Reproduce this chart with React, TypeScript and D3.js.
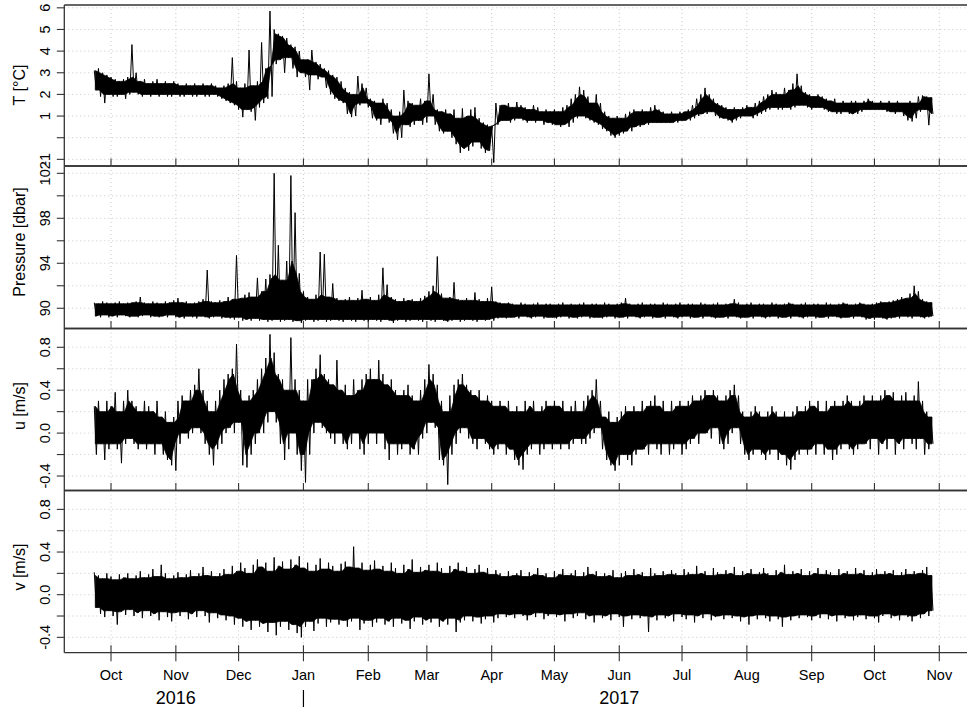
import React from "react";
import * as d3 from "d3";

// Mooring record: 2-day min/max envelopes, first bin starts Sep 23 2016
const START = Date.UTC(2016, 8, 23);
const STEP_DAYS = 2;
const DAY = 86400000;

// Temperature [°C]
const tempHi = [
  3.1, 3.2, 3.0, 2.9, 2.8, 2.7, 2.6, 2.7, 2.8, 4.3,
  3.0, 2.6, 2.7, 2.5, 2.6, 2.7, 2.5, 2.6, 2.5, 2.6,
  2.5, 2.4, 2.5, 2.4, 2.5, 2.4, 2.5, 2.4, 2.5, 2.4,
  2.3, 2.4, 2.5, 3.7, 2.6, 2.3, 2.5, 4.05, 2.4, 2.6,
  4.4, 3.2, 5.85, 5.0, 4.8, 4.7, 4.6, 4.3, 4.2, 4.0,
  3.6, 3.6, 4.05, 3.5, 3.4, 3.2, 3.1, 2.9, 2.8, 2.6,
  2.3, 2.1, 2.0, 2.85, 2.5, 2.3, 1.8, 1.7, 1.6, 1.8,
  1.6, 1.3, 1.0, 1.2, 2.2, 1.7, 1.6, 1.5, 1.8, 1.7,
  2.95, 2.0, 1.3, 1.2, 1.3, 1.1, 1.3, 0.9, 1.35, 1.0,
  1.3, 1.4, 0.9, 0.7, 0.6, 0.5, 1.6, 1.5, 1.5, 1.6,
  1.4, 1.65, 1.5, 1.4, 1.3, 1.5, 1.4, 1.2, 1.3, 1.2,
  1.3, 1.2, 1.4, 1.5, 1.8, 2.0, 2.35, 2.2, 1.9, 1.6,
  2.0, 1.6, 1.2, 1.0, 0.9, 1.0, 0.9, 1.1, 1.2, 1.3,
  1.2, 1.3, 1.2, 1.4, 1.5, 1.3, 1.2, 1.1, 1.2, 1.1,
  1.2, 1.2, 1.3, 1.5, 1.8, 2.0, 2.3, 2.0, 1.8, 1.6,
  1.5, 1.4, 1.3, 1.4, 1.3, 1.4, 1.5, 1.4, 1.6, 1.7,
  1.9, 2.0, 2.2, 2.1, 2.0, 2.3, 2.2, 2.5, 2.95, 2.4,
  2.1, 2.0, 1.9, 2.0, 1.9, 1.8, 1.7, 1.8, 1.6, 1.7,
  1.6, 1.7, 1.7, 1.6, 1.7, 1.8, 1.7, 1.6, 1.7, 1.6,
  1.7, 1.6, 1.7, 1.6, 1.6, 1.7, 1.6, 1.9, 1.95, 1.9,
  1.85,
];
const tempLo = [
  2.2, 1.9, 1.6, 2.0, 1.9, 1.9, 2.0, 1.8, 2.0, 2.1,
  2.0, 1.9, 2.0, 1.9, 2.0, 1.9, 2.0, 1.9, 1.9, 2.0,
  1.9, 1.9, 2.0, 1.9, 1.9, 2.0, 1.9, 1.9, 2.0, 1.9,
  1.8, 1.7, 1.6, 1.5, 1.3, 0.95, 1.3, 1.2, 0.8, 1.4,
  1.6, 1.8, 1.9, 3.4, 3.6, 3.0, 3.7, 3.2, 2.8, 3.0,
  2.8, 2.2, 2.9, 2.7, 2.8, 2.3, 2.0, 1.8, 1.7, 1.6,
  1.1, 0.95, 1.0, 1.5, 1.6, 1.4, 0.9, 0.8, 0.6, 0.9,
  0.7, 0.2, -0.1, 0.0, 0.6, 0.5, 0.6, 0.8, 0.6, 0.7,
  1.0, 0.6, 0.3, 0.2, 0.3, 0.0, -0.3, -0.7, -0.5, -0.6,
  -0.4, -0.2, -0.5, -0.7, -0.6, -1.15, 0.6, 0.8, 0.8, 0.7,
  0.8, 0.9, 0.8, 0.7, 0.8, 0.7, 0.8, 0.6, 0.7, 0.6,
  0.6, 0.5, 0.6, 0.5, 0.7, 0.9, 1.0, 0.9, 0.8, 0.7,
  0.6, 0.4, 0.3, 0.1, 0.0, 0.1, 0.2, 0.3, 0.3, 0.5,
  0.5, 0.6, 0.6, 0.7, 0.7, 0.7, 0.7, 0.7, 0.7, 0.7,
  0.8, 0.8, 0.8, 0.9, 1.0, 1.1, 1.1, 1.2, 1.0, 0.9,
  0.9, 0.8, 0.7, 0.8, 0.9, 1.0, 1.0, 0.9, 1.0, 1.1,
  1.2, 1.3, 1.4, 1.3, 1.3, 1.4, 1.3, 1.4, 1.5, 1.5,
  1.4, 1.3, 1.4, 1.4, 1.3, 1.2, 1.2, 1.1, 1.1, 1.2,
  1.1, 1.1, 1.1, 1.2, 1.3, 1.3, 1.3, 1.3, 1.3, 1.2,
  1.2, 1.1, 1.2, 1.0, 0.8, 0.75, 0.9, 1.2, 1.3, 0.58,
  1.1,
];

// Pressure [dbar]
const presHi = [
  90.5, 90.4, 90.6, 90.5, 90.4, 90.5, 90.6, 90.4, 90.5, 90.5,
  90.6, 91.0, 90.5, 90.4, 90.6, 90.5, 90.4, 90.6, 90.5, 90.7,
  90.9, 90.5, 90.6, 90.4, 90.5, 90.6, 90.8, 93.4, 90.6, 90.5,
  90.7, 90.6, 91.0, 90.8, 94.7, 90.9, 91.2, 91.4, 91.0, 92.7,
  91.5, 92.6, 93.0, 102.0, 95.6, 92.5, 94.2, 101.8, 98.5, 93.1,
  91.5, 91.0, 90.8, 91.2, 95.0, 94.8, 91.0, 92.2, 90.9, 90.7,
  90.8, 91.0, 90.7, 90.9, 91.6, 90.8, 91.0, 90.7, 91.2, 93.6,
  92.1, 91.0, 90.8, 90.6, 90.9, 90.7, 90.8, 90.6, 90.9, 91.1,
  91.5, 92.0, 94.6, 91.3, 90.9, 91.0, 92.3, 90.8, 90.7, 90.9,
  90.7, 91.4, 90.8, 90.6, 90.9, 91.9, 90.6, 90.5, 90.4, 90.5,
  90.4, 90.3, 90.5, 90.4, 90.3, 90.4, 90.5, 90.3, 90.4, 90.4,
  90.3, 90.4, 90.5, 90.3, 90.4, 90.3, 90.4, 90.5, 90.3, 90.4,
  90.4, 90.3, 90.5, 90.4, 90.3, 90.4, 90.5, 90.9, 90.4, 90.3,
  90.4, 90.5, 90.3, 90.4, 90.4, 90.3, 90.5, 90.4, 90.3, 90.4,
  90.5, 90.3, 90.4, 90.4, 90.3, 90.5, 90.4, 90.3, 90.4, 90.5,
  90.3, 90.4, 90.4, 90.8, 90.5, 90.3, 90.4, 90.5, 90.3, 90.4,
  90.4, 90.3, 90.5, 90.4, 90.3, 90.4, 90.5, 90.4, 90.3, 90.4,
  90.5, 90.3, 90.4, 90.4, 90.3, 90.5, 90.4, 90.3, 90.4, 90.5,
  90.4, 90.3, 90.4, 90.5, 90.4, 90.3, 90.4, 90.5, 90.6, 90.5,
  90.6, 90.7, 90.8, 91.0, 90.9, 91.3, 92.0, 91.5, 90.8, 90.6,
  90.5,
];
const presLo = [
  89.3, 89.2, 89.4, 89.2, 89.3, 89.2, 89.4, 89.3, 89.2, 89.3,
  89.2, 89.3, 89.4, 89.2, 89.3, 89.2, 89.3, 89.2, 89.4, 89.2,
  89.2, 89.1, 89.3, 89.2, 89.1, 89.3, 89.2, 89.1, 89.2, 89.3,
  89.1, 89.2, 89.1, 89.0, 89.2, 88.9, 89.0, 88.9, 89.1, 88.9,
  89.0, 88.8, 88.9, 89.0, 88.8, 88.9, 89.0, 88.8, 88.9, 88.7,
  88.9, 89.0, 88.8, 88.9, 89.0, 88.8, 88.9, 89.0, 88.9, 88.8,
  89.0, 88.9, 88.8, 89.0, 88.9, 88.8, 89.0, 88.9, 88.8, 89.0,
  88.9, 88.7, 88.9, 89.0, 88.8, 88.9, 89.0, 88.9, 88.8, 89.0,
  88.9, 88.8, 89.0, 88.9, 88.8, 88.9, 89.0, 88.8, 88.9, 89.0,
  88.9, 88.8, 89.0, 88.9, 89.0, 88.9, 89.1, 89.2, 89.1, 89.2,
  89.2, 89.1, 89.3, 89.2, 89.1, 89.2, 89.3, 89.1, 89.2, 89.2,
  89.1, 89.2, 89.3, 89.1, 89.2, 89.1, 89.2, 89.3, 89.1, 89.2,
  89.2, 89.1, 89.2, 89.3, 89.1, 89.2, 89.2, 89.1, 89.3, 89.2,
  89.1, 89.2, 89.3, 89.1, 89.2, 89.2, 89.1, 89.3, 89.2, 89.1,
  89.2, 89.3, 89.1, 89.2, 89.2, 89.1, 89.3, 89.2, 89.1, 89.2,
  89.2, 89.1, 89.3, 89.2, 89.1, 89.2, 89.2, 89.1, 89.3, 89.2,
  89.1, 89.2, 89.3, 89.1, 89.2, 89.2, 89.1, 89.3, 89.2, 89.1,
  89.2, 89.3, 89.1, 89.2, 89.2, 89.1, 89.3, 89.2, 89.1, 89.2,
  89.2, 89.1, 89.3, 89.2, 89.0, 89.1, 89.0, 89.2, 89.1, 89.0,
  89.1, 89.2, 89.1, 89.3, 89.2, 89.1, 89.3, 89.2, 89.1, 89.2,
  89.3,
];

// Eastward velocity u [m/s]
const uHi = [
  0.25, 0.3, 0.2, 0.3, 0.25, 0.38, 0.2, 0.3, 0.4, 0.3,
  0.25, 0.2, 0.3, 0.25, 0.2, 0.3, 0.15, 0.2, 0.1, 0.15,
  0.3, 0.35, 0.3, 0.4, 0.45, 0.6, 0.4, 0.3, 0.2, 0.3,
  0.4, 0.5, 0.55, 0.6, 0.83, 0.4, 0.3, 0.35, 0.4, 0.5,
  0.6, 0.7, 0.92, 0.75, 0.55, 0.5, 0.4, 0.89, 0.5, 0.4,
  0.3, 0.5, 0.5, 0.6, 0.73, 0.55, 0.5, 0.45, 0.68, 0.4,
  0.45, 0.35, 0.5, 0.4, 0.5, 0.55, 0.6, 0.5, 0.68, 0.55,
  0.45, 0.5, 0.4, 0.35, 0.4, 0.45, 0.35, 0.3, 0.4, 0.5,
  0.64, 0.55, 0.45, 0.3, 0.2, 0.35, 0.45, 0.5, 0.55, 0.45,
  0.4, 0.35, 0.4, 0.3, 0.35, 0.3, 0.25, 0.3, 0.25, 0.3,
  0.2, 0.25, 0.2, 0.3, 0.25, 0.3, 0.2, 0.25, 0.3, 0.25,
  0.3, 0.25, 0.3, 0.2, 0.25, 0.3, 0.2, 0.3, 0.35, 0.4,
  0.5, 0.3, 0.15, 0.2, 0.1, 0.15, 0.2, 0.25, 0.2, 0.25,
  0.2, 0.3, 0.25, 0.3, 0.35, 0.25, 0.3, 0.2, 0.3, 0.25,
  0.3, 0.25, 0.3, 0.35, 0.3, 0.35, 0.4, 0.35, 0.4, 0.35,
  0.3, 0.35, 0.4, 0.45, 0.35, 0.2, 0.15, 0.2, 0.25, 0.2,
  0.15, 0.2, 0.25, 0.2, 0.15, 0.2, 0.15, 0.2, 0.25, 0.2,
  0.25, 0.3, 0.25, 0.3, 0.2, 0.3, 0.25, 0.3, 0.25, 0.3,
  0.35, 0.3, 0.25, 0.3, 0.35, 0.3, 0.35, 0.3, 0.35, 0.4,
  0.35, 0.38, 0.3, 0.35, 0.38, 0.3, 0.35, 0.48, 0.3, 0.2,
  0.15,
];
const uLo = [
  -0.2, -0.1, -0.25, -0.15, -0.1, -0.15, -0.28, -0.1, -0.05, -0.1,
  -0.15, -0.1, -0.15, -0.1, -0.2, -0.1, -0.2, -0.25, -0.3, -0.35,
  -0.1, 0.0, -0.05, 0.0, 0.05, 0.0, -0.1, -0.2, -0.3, -0.15,
  -0.1, 0.0, 0.05, 0.0, 0.1, -0.3, -0.32, -0.2, -0.1, 0.0,
  0.0, 0.1, 0.2, 0.1, -0.1, -0.25, -0.15, 0.0, -0.2, -0.35,
  -0.46, -0.2, 0.0, 0.1, 0.05, 0.0, -0.05, -0.1, 0.0, -0.1,
  -0.15, -0.1, 0.0, -0.15, -0.2, -0.1, 0.0, -0.1, 0.0, -0.15,
  -0.25, -0.1, -0.2, -0.15, -0.1, -0.2, -0.15, -0.2, -0.05, 0.0,
  0.1, 0.05, -0.25, -0.3, -0.48, -0.2, -0.1, 0.0, 0.05, -0.05,
  -0.1, -0.15, -0.05, -0.1, -0.15, -0.2, -0.15, -0.1, -0.2, -0.15,
  -0.25, -0.3, -0.34, -0.2, -0.15, -0.1, -0.2, -0.15, -0.1, -0.15,
  -0.1, -0.15, -0.1, -0.15, -0.1, -0.05, -0.1, -0.1, -0.05, 0.0,
  0.05, -0.15, -0.25, -0.3, -0.35, -0.3, -0.2, -0.25, -0.3, -0.2,
  -0.15, -0.15, -0.2, -0.1, -0.15, -0.2, -0.1, -0.2, -0.15, -0.1,
  -0.2, -0.15, -0.1, -0.05, -0.1, 0.0, 0.0, -0.05, 0.05, -0.1,
  -0.15, -0.1, 0.0, 0.05, -0.1, -0.2, -0.25, -0.2, -0.15, -0.2,
  -0.25, -0.2, -0.15, -0.25, -0.2, -0.3, -0.34, -0.25, -0.2, -0.15,
  -0.2, -0.15, -0.2, -0.1, -0.2, -0.15, -0.25, -0.2, -0.15, -0.1,
  -0.15, -0.2, -0.15, -0.1, -0.1, -0.15, -0.05, -0.2, -0.1, -0.15,
  -0.05, -0.2, -0.1, -0.15, -0.05, -0.1, -0.15, -0.05, -0.2, -0.15,
  -0.1,
];

// Northward velocity v [m/s]
const vHi = [
  0.21, 0.18, 0.15, 0.2, 0.17, 0.14, 0.19, 0.16, 0.2, 0.15,
  0.18, 0.22, 0.16, 0.19, 0.24, 0.17, 0.28, 0.2, 0.15, 0.18,
  0.21, 0.16, 0.19, 0.23, 0.17, 0.2, 0.26, 0.18, 0.22, 0.17,
  0.2, 0.24, 0.19, 0.27, 0.22, 0.3, 0.25, 0.2, 0.28, 0.33,
  0.26, 0.3, 0.22, 0.35, 0.27, 0.31, 0.24, 0.33, 0.28, 0.36,
  0.25, 0.3, 0.22, 0.28, 0.34, 0.24, 0.3, 0.27, 0.22, 0.29,
  0.31, 0.26, 0.45, 0.25, 0.3, 0.23, 0.28, 0.32, 0.24, 0.27,
  0.22, 0.3, 0.25, 0.2, 0.28, 0.24, 0.33, 0.21, 0.26, 0.23,
  0.28, 0.22, 0.3, 0.25, 0.2, 0.27, 0.24, 0.3, 0.22, 0.26,
  0.2, 0.24, 0.28, 0.21, 0.25, 0.19, 0.23, 0.2, 0.17, 0.22,
  0.18, 0.2, 0.23, 0.17, 0.21, 0.19, 0.25, 0.18, 0.2, 0.16,
  0.22, 0.19, 0.24, 0.18, 0.2, 0.23, 0.17, 0.21, 0.26, 0.19,
  0.22, 0.17, 0.2, 0.18, 0.23, 0.16, 0.2, 0.22, 0.18, 0.24,
  0.19, 0.21, 0.17, 0.25, 0.2, 0.18, 0.22, 0.19, 0.23, 0.2,
  0.18, 0.24, 0.21, 0.19, 0.27, 0.2, 0.22, 0.18, 0.25, 0.21,
  0.19, 0.23, 0.2, 0.26, 0.18, 0.22, 0.2, 0.24, 0.19, 0.21,
  0.25, 0.2, 0.18, 0.23, 0.21, 0.28, 0.19, 0.22, 0.2, 0.24,
  0.18, 0.22, 0.2, 0.25, 0.19, 0.23, 0.21, 0.18, 0.24, 0.2,
  0.22, 0.19, 0.25, 0.2, 0.23, 0.18, 0.21, 0.24, 0.19, 0.22,
  0.2, 0.23, 0.18, 0.21, 0.24, 0.19, 0.22, 0.2, 0.23, 0.26,
  0.18,
];
const vLo = [
  -0.12, -0.18, -0.21, -0.15, -0.2, -0.28, -0.16, -0.19, -0.14, -0.2,
  -0.17, -0.22, -0.15, -0.2, -0.18, -0.24, -0.16, -0.21, -0.25, -0.17,
  -0.2, -0.16, -0.23, -0.18, -0.21, -0.15, -0.2, -0.26, -0.17, -0.22,
  -0.19, -0.24, -0.2, -0.28, -0.22, -0.3, -0.25, -0.33, -0.24, -0.3,
  -0.27, -0.35, -0.26, -0.38, -0.3, -0.25, -0.33, -0.28, -0.36, -0.4,
  -0.3, -0.25, -0.34, -0.27, -0.22, -0.3, -0.26, -0.23, -0.28, -0.24,
  -0.3, -0.25, -0.22, -0.33, -0.27, -0.24, -0.3, -0.26, -0.22, -0.28,
  -0.25, -0.3, -0.22, -0.27, -0.24, -0.32, -0.25, -0.21, -0.28, -0.24,
  -0.26, -0.22, -0.3, -0.25, -0.28, -0.22, -0.35, -0.26, -0.24, -0.2,
  -0.25, -0.21, -0.27, -0.23, -0.2, -0.26, -0.22, -0.18, -0.21, -0.19,
  -0.22, -0.18, -0.2, -0.24, -0.19, -0.21, -0.17, -0.23, -0.2, -0.18,
  -0.21, -0.19, -0.25, -0.18, -0.22, -0.2, -0.17, -0.23, -0.2, -0.26,
  -0.19, -0.22, -0.2, -0.24, -0.18, -0.21, -0.3, -0.2, -0.23, -0.19,
  -0.22, -0.2, -0.35, -0.21, -0.24, -0.19, -0.22, -0.2, -0.25, -0.18,
  -0.21, -0.23, -0.19, -0.26, -0.2, -0.22, -0.18, -0.24, -0.21, -0.2,
  -0.23, -0.19, -0.22, -0.2, -0.25, -0.21, -0.28, -0.2, -0.23, -0.19,
  -0.22, -0.25, -0.2, -0.23, -0.3, -0.21, -0.24, -0.2, -0.22, -0.19,
  -0.21, -0.24, -0.2, -0.22, -0.18, -0.23, -0.2, -0.25, -0.19, -0.22,
  -0.2, -0.24, -0.21, -0.19, -0.23, -0.2, -0.22, -0.26, -0.2, -0.18,
  -0.22, -0.2, -0.24, -0.19, -0.21, -0.25, -0.2, -0.22, -0.18, -0.2,
  -0.15,
];

// Axis ticks and labels
const monthTicks = [
  Date.UTC(2016, 9, 1), Date.UTC(2016, 10, 1), Date.UTC(2016, 11, 1),
  Date.UTC(2017, 0, 1), Date.UTC(2017, 1, 1), Date.UTC(2017, 2, 1),
  Date.UTC(2017, 3, 1), Date.UTC(2017, 4, 1), Date.UTC(2017, 5, 1),
  Date.UTC(2017, 6, 1), Date.UTC(2017, 7, 1), Date.UTC(2017, 8, 1),
  Date.UTC(2017, 9, 1), Date.UTC(2017, 10, 1),
];
const monthLabels = ["Oct", "Nov", "Dec", "Jan", "Feb", "Mar", "Apr", "May", "Jun", "Jul", "Aug", "Sep", "Oct", "Nov"];
const yearLabels = ["2016", "2017"];
const yearLabelDates = [Date.UTC(2016, 10, 1), Date.UTC(2017, 5, 1)];
const yearBreak = Date.UTC(2017, 0, 1);

const tempTicks = [-1, 0, 1, 2, 3, 4, 5, 6];
const tempTickLabels = ["-1", "", "1", "2", "3", "4", "5", "6"];
const presTicks = [90, 92, 94, 96, 98, 100, 102];
const presTickLabels = ["90", "", "94", "", "98", "", "102"];
const velTicks = [-0.4, -0.2, 0, 0.2, 0.4, 0.6, 0.8];
const velTickLabels = ["-0.4", "", "0.0", "", "0.4", "", "0.8"];

const W = 967;
const H = 712;
const LEFT = 64.3;
const RIGHT = 967;
const FONT = "'Liberation Sans', Arial, Helvetica, sans-serif";

const x = d3
  .scaleUtc()
  .domain([new Date(Date.UTC(2016, 8, 8, 16)), new Date(Date.UTC(2017, 10, 14, 6))])
  .range([LEFT, RIGHT]);

type Panel = {
  key: string;
  title: string;
  hi: number[];
  lo: number[];
  domain: [number, number];
  top: number;
  bottom: number;
  titleY: number;
  ticks: number[];
  tickLabels: string[];
};

const panels: Panel[] = [
  { key: "t", title: "T [°C]", hi: tempHi, lo: tempLo, domain: [-1.307, 6.13], top: 5, bottom: 166, titleY: 85, ticks: tempTicks, tickLabels: tempTickLabels },
  { key: "p", title: "Pressure [dbar]", hi: presHi, lo: presLo, domain: [88.2, 102.65], top: 166, bottom: 328.5, titleY: 242, ticks: presTicks, tickLabels: presTickLabels },
  { key: "u", title: "u [m/s]", hi: uHi, lo: uLo, domain: [-0.535, 0.975], top: 328.5, bottom: 490.5, titleY: 406, ticks: velTicks, tickLabels: velTickLabels },
  { key: "v", title: "v [m/s]", hi: vHi, lo: vLo, domain: [-0.544, 0.977], top: 490.5, bottom: 652.7, titleY: 567, ticks: velTicks, tickLabels: velTickLabels },
];

type Core = { t: Date; hi: number; lo: number };

const binStart = (i: number) => START + i * STEP_DAYS * DAY;

// Zigzag through every bin: maximum, then minimum one day later
function tracePath(p: Panel, y: d3.ScaleLinear<number, number>): string {
  const pts: [number, number][] = [];
  p.hi.forEach((h, i) => {
    pts.push([x(new Date(binStart(i))), y(h)]);
    pts.push([x(new Date(binStart(i) + DAY)), y(p.lo[i])]);
  });
  return d3.line()(pts) || "";
}

// Range shared by neighbouring bins: drawn solid underneath the trace
function coreBand(p: Panel): Core[] {
  const n = p.hi.length;
  return p.hi.map((_, i) => {
    const idx = [Math.max(0, i - 1), i, Math.min(n - 1, i + 1)];
    let hi = d3.min(idx, (k) => p.hi[k]) as number;
    let lo = d3.max(idx, (k) => p.lo[k]) as number;
    if (lo > hi) {
      const mid = (lo + hi) / 2;
      hi = mid;
      lo = mid;
    }
    return { t: new Date(binStart(i) + DAY / 2), hi, lo };
  });
}

export default function App() {
  const gridColor = "#c8c8c8";
  const axisColor = "#333";
  return (
    <svg
      width={W}
      height={H}
      viewBox={`0 0 ${W} ${H}`}
      style={{ position: "absolute", left: 0, top: 0, background: "#fff" }}
      fontFamily={FONT}
    >
      <rect x={0} y={0} width={W} height={H} fill="#fff" />
      <defs>
        {panels.map((p) => (
          <clipPath id={`clip-${p.key}`} key={p.key}>
            <rect x={LEFT} y={p.top} width={RIGHT - LEFT} height={p.bottom - p.top} />
          </clipPath>
        ))}
      </defs>
      {panels.map((p, pi) => {
        const y = d3.scaleLinear().domain(p.domain).range([p.bottom, p.top]);
        const isLast = pi === panels.length - 1;
        const area = d3
          .area<Core>()
          .x((d) => x(d.t))
          .y0((d) => y(d.lo))
          .y1((d) => y(d.hi));
        return (
          <g key={p.key}>
            {/* grid */}
            {p.ticks.map((t) => (
              <line key={`hg${t}`} x1={LEFT} x2={RIGHT} y1={y(t)} y2={y(t)} stroke={gridColor} strokeWidth={1} strokeDasharray="1 3" />
            ))}
            {monthTicks.map((m) => (
              <line key={`vg${m}`} x1={x(new Date(m))} x2={x(new Date(m))} y1={p.top} y2={p.bottom} stroke={gridColor} strokeWidth={1} strokeDasharray="1 3" />
            ))}
            {/* series */}
            <g clipPath={`url(#clip-${p.key})`}>
              <path d={area(coreBand(p)) || ""} fill="#000" stroke="#000" strokeWidth={0.8} />
              <path d={tracePath(p, y)} fill="none" stroke="#000" strokeWidth={1} strokeLinejoin="miter" strokeMiterlimit={30} />
            </g>
            {/* frame */}
            <line x1={LEFT} x2={RIGHT} y1={p.top} y2={p.top} stroke={axisColor} strokeWidth={1.3} />
            <line x1={LEFT} x2={RIGHT} y1={p.bottom} y2={p.bottom} stroke={axisColor} strokeWidth={1.3} />
            {/* month ticks */}
            {monthTicks.map((m) => (
              <line
                key={`mt${m}`}
                x1={x(new Date(m))}
                x2={x(new Date(m))}
                y1={p.bottom - 7.5}
                y2={isLast ? p.bottom + 8.5 : p.bottom}
                stroke={axisColor}
                strokeWidth={1.1}
              />
            ))}
            {/* y axis */}
            {p.ticks.map((t, ti) => (
              <g key={`yt${t}`}>
                <line x1={LEFT - 7.5} x2={LEFT} y1={y(t)} y2={y(t)} stroke={axisColor} strokeWidth={1.1} />
                {p.tickLabels[ti] !== "" && (
                  <text transform={`translate(50,${y(t)}) rotate(-90)`} textAnchor="middle" fontSize={14.5} fill="#000">
                    {p.tickLabels[ti]}
                  </text>
                )}
              </g>
            ))}
            <text
              transform={`translate(25,${p.titleY}) rotate(-90)`}
              textAnchor="middle"
              fontSize={16}
              fill="#000"
            >
              {p.title}
            </text>
          </g>
        );
      })}
      <line x1={LEFT} x2={LEFT} y1={5} y2={652.7} stroke={axisColor} strokeWidth={1.3} />
      {/* time axis labels */}
      {monthTicks.map((m, i) => (
        <text key={`ml${m}`} x={x(new Date(m))} y={680} textAnchor="middle" fontSize={14.5} fill="#000">
          {monthLabels[i]}
        </text>
      ))}
      {yearLabels.map((lbl, i) => (
        <text key={lbl} x={x(new Date(yearLabelDates[i]))} y={704} textAnchor="middle" fontSize={18} fill="#000">
          {lbl}
        </text>
      ))}
      <line x1={x(new Date(yearBreak))} x2={x(new Date(yearBreak))} y1={690} y2={707} stroke="#000" strokeWidth={1.2} />
    </svg>
  );
}
